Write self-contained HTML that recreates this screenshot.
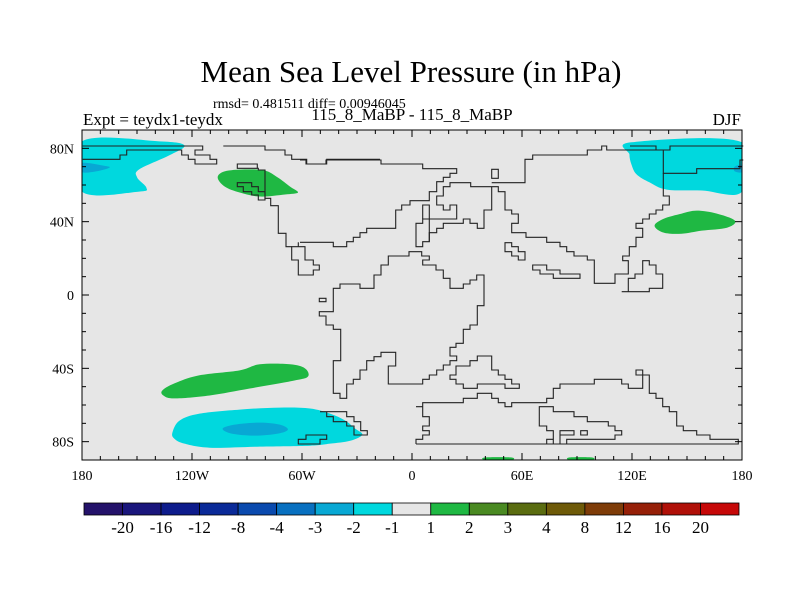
<!DOCTYPE html>
<html><head><meta charset="utf-8">
<style>
html,body{margin:0;padding:0;background:#fff;}
svg{display:block;font-family:"Liberation Serif",serif;}
</style></head>
<body>
<svg id="chart" width="800" height="600" viewBox="0 0 800 600" xmlns="http://www.w3.org/2000/svg">
<rect width="800" height="600" fill="#fff"/>
<text x="411" y="82" font-size="31" text-anchor="middle">Mean Sea Level Pressure (in hPa)</text>
<text x="213" y="108" font-size="14">rmsd= 0.481511 diff= 0.00946045</text>
<text x="83" y="125" font-size="17">Expt = teydx1-teydx</text>
<text x="412" y="120" font-size="17" text-anchor="middle">115_8_MaBP - 115_8_MaBP</text>
<text x="741" y="125" font-size="17" text-anchor="end">DJF</text>
<rect x="82" y="130" width="660" height="330" fill="#e6e6e6"/>
<g id="fields"></g>
<g id="coast" fill="none" stroke="#222" stroke-width="1.1"></g>
<g id="axes"></g>
<rect x="82" y="130" width="660" height="330" fill="none" stroke="#000" stroke-width="1"/>
<g id="cbar"></g>
</svg>
<script>
// ---- data ----
const lonTicks = [-180,-120,-60,0,60,120,180];
const lonLabels = ["180","120W","60W","0","60E","120E","180"];
const latTicks = [80,40,0,-40,-80];
const latLabels = ["80N","40N","0","40S","80S"];
const levels = ["-20","-16","-12","-8","-4","-3","-2","-1","1","2","3","4","8","12","16","20"];
const levelColors = ["#24126a","#1a167c","#0e1c8c","#0a2a98","#0a4aae","#0870c0","#08a8d4","#00d8de","#e6e6e6","#1fb843","#4a8a22","#5a6c10","#6e5a08","#7e3c08","#962008","#b01008","#c60808"];
// contour regions: [lon,lat] points, fill level colour
const blobTopLeftCyan = [[-180,83.8],[-137.8,83.8],[-124.1,81.6],[-132.3,76.2],[-148.8,68.5],[-149.9,64.1],[-144.9,58.6],[-148.8,56.4],[-180,56.4]];
const blobTopLeftBlue = [[-180,72],[-168,70.5],[-165,69.5],[-172,67.5],[-180,67]];
const blobNAGreen = [[-106,64.1],[-102.2,67.4],[-91.2,68.5],[-80.3,67.9],[-73.2,64.1],[-66.6,59.2],[-62.2,55.9],[-69.3,54.8],[-83,53.7],[-94,55.9],[-102.2,59.2]];
const blobTopRightCyan = [[119.7,83.3],[180,83.3],[180,56.4],[158.1,57],[138.9,57.5],[129.6,61.4],[122.5,65.8],[119.7,71.2],[118.6,76.7]];
const blobTopRightBlue = [[176,70],[180,71],[180,67],[176,67.5]];
const blobEastGreen = [[132.3,37.8],[137.3,41.6],[147.1,44.4],[155.3,46],[166.3,44.4],[176.2,40.5],[171.8,36.7],[158.1,35.1],[147.1,33.4],[137.3,34]];
const blobSouthGreen = [[-136.2,-52.1],[-129.6,-48.2],[-115.9,-43.8],[-94,-41.1],[-83,-37.8],[-66.6,-37.8],[-58.4,-40],[-56.7,-44.4],[-63.8,-46.6],[-88.5,-51],[-110.4,-54.8],[-129.6,-56.4],[-135.6,-54.8]];
const blobSouthCyan = [[-130.7,-75.1],[-126.8,-68.5],[-115.9,-64.7],[-94,-62.5],[-72.1,-61.4],[-55.6,-61.9],[-44.7,-64.7],[-36.4,-68.5],[-31,-72.9],[-27.1,-76.2],[-33.7,-79.5],[-44.7,-81.1],[-55.6,-82.2],[-83,-82.7],[-110.4,-83.3],[-124.1,-81.1],[-129.6,-78.4]];
const blobSouthBlue = [[-103.3,-72.9],[-96.7,-70.7],[-83,-69.6],[-72.1,-70.7],[-67.7,-73.4],[-73.2,-75.6],[-85.8,-76.7],[-98.4,-75.6]];
const blobPoleGreen1 = [[40,-88.6],[54,-88.6],[54,-90],[40,-90]];
const blobPoleGreen2 = [[86,-88.6],[98,-88.6],[98,-90],[86,-90]];
const fieldList = [[blobTopLeftCyan,"#00d8de"],[blobTopLeftBlue,"#08a8d4"],[blobNAGreen,"#1fb843"],[blobTopRightCyan,"#00d8de"],[blobTopRightBlue,"#08a8d4"],[blobEastGreen,"#1fb843"],[blobSouthGreen,"#1fb843"],[blobSouthCyan,"#00d8de"],[blobSouthBlue,"#08a8d4"],[blobPoleGreen1,"#1fb843"],[blobPoleGreen2,"#1fb843"]];

// ---- axis functions ----
const X = lon => 412 + lon*660/360;
const Y = lat => 295 - lat*330/180;
const NS = "http://www.w3.org/2000/svg";
function mk(tag, attrs, parent){const e=document.createElementNS(NS,tag);for(const k in attrs)e.setAttribute(k,attrs[k]);parent.appendChild(e);return e;}

// fields (smooth closed curves)
const fg=document.getElementById('fields');
function smooth(pts,closedStraight){
  const p=pts.map(q=>[X(q[0]),Y(q[1])]);const n=p.length;let d=`M${p[0][0]},${p[0][1]}`;
  for(let i=0;i<n;i++){const p0=p[(i-1+n)%n],p1=p[i],p2=p[(i+1)%n],p3=p[(i+2)%n];
    const c1=[p1[0]+(p2[0]-p0[0])/6,p1[1]+(p2[1]-p0[1])/6],c2=[p2[0]-(p3[0]-p1[0])/6,p2[1]-(p3[1]-p1[1])/6];
    d+=` C${c1[0]},${c1[1]} ${c2[0]},${c2[1]} ${p2[0]},${p2[1]}`;}
  return d+'Z';
}
fieldList.forEach((f,i)=>{
  const el=mk('path',{d:smooth(f[0]),fill:f[1]},fg);
  
  
});
const clip=mk('clipPath',{id:'pc'},document.getElementById('chart'));
mk('rect',{x:82,y:130,width:660,height:330},clip);
fg.setAttribute('clip-path','url(#pc)');

// coastlines (basemap geometry, given in zoom-crop pixel units: origin + /3)
const cg=document.getElementById('coast');
function coast(ox,oy,arr,closed){
  let pts=[];for(let i=0;i<arr.length;i+=2)pts.push((ox+arr[i]/3).toFixed(1)+','+(oy+arr[i+1]/3).toFixed(1));
  const el=mk(closed?'polygon':'polyline',{points:pts.join(' ')},cg);
  
  
}
coast(80,140,[8,18,368,18,368,30,345,30,345,45,390,45,390,58,410,58,410,72,345,72,345,58,325,58,325,45,305,45,305,30,140,30,140,45,120,45,120,58,8,58]);
coast(80,140,[430,18,555,18,555,30,615,30,615,45,635,45,635,58,680,58,680,72,740,72,740,58,900,58]);
coast(300,140,[0,60,18,60,18,72,78,72,78,60,243,60,243,72,368,72,368,86,470,86,470,100,450,100,450,112,430,112,430,125,410,125,410,155,388,155,388,182,330,182,330,195,305,195,305,210,287,210,287,265,200,265,200,278,180,278,180,292,160,292,160,305,140,305,140,320,100,320,100,307,0,307]);
coast(180,140,[355,307,355,320,335,320,335,360,355,360,355,405,400,405,400,390,418,390,418,375,400,375,400,360,375,360,375,320,355,320]);
coast(180,140,[335,320,318,320,318,280,295,280,295,197,272,197,272,175,255,175,255,90,235,90,235,85,172,85,172,72,232,72,232,85]);
coast(80,140,[472,128,515,128,515,140,535,140,535,155,555,155,555,180,535,180,535,165,515,165,515,155,490,155,490,140,472,140],true);
// Americas-like continent
coast(300,140,[58,475,78,475,78,485,58,485],true);
coast(300,140,[100,460,100,445,120,445,120,432,180,432,180,445,222,445,222,405,243,405,243,375,265,375,265,348,327,348,327,335,365,335,365,348,388,348,388,360,368,360,368,375,408,375,408,390,430,390,430,415,450,415,450,445,490,445,490,432,510,432,510,420,530,420,530,405,552,405,552,497,532,497,532,555,510,555,510,568,490,568,490,610,468,610,468,622,450,622,450,648,470,648,470,662,450,662,450,675,430,675,430,690,410,690,410,705,388,705,388,718,368,718,368,732,265,732,265,678,287,678,287,637,243,637,243,650,222,650,222,662,200,662,200,690,180,690,180,718,160,718,160,732,140,732,140,775,120,775,120,760,100,760,100,662,122,662,122,568,100,568,100,555,78,555,78,528,58,528,58,515,100,515],true);
// Asia-like
coast(300,140,[575,88,595,88,595,115,575,115],true);
coast(300,140,[575,128,675,128,675,58,698,58,698,45,862,45,862,30,905,30,905,18,920,18,920,30,1090,30,1090,100,1190,100,1190,86,1320,86,1320,60,1330,60]);
coast(300,140,[990,18,1068,18,1068,30,1110,30,1110,18,1330,18]);
coast(300,140,[1090,100,1090,168,1108,168,1108,195,1088,195,1088,210,1068,210,1068,222,1048,222,1048,237,1028,237,1028,250,1008,250,1008,265,1028,265,1028,292,1008,292,1008,320,988,320,988,348,968,348,968,362,985,362,985,402,945,402,945,430,883,430,883,360,862,360,862,348,822,348,822,335,800,335,800,320,780,320,780,307,740,307,740,292,678,292,678,278,635,278,635,250,655,250,655,222,635,222,635,210,615,210,615,155,595,155,595,140,575,140,575,210,552,210,552,265,532,265,532,250,510,250,510,237,490,237,490,250,430,250,430,265,410,265,410,278,388,278,388,305,368,305,368,320,348,320,348,250,368,250,368,237,470,237,470,195,450,195,450,210,430,210,430,195,410,195,410,168,430,168,430,140,450,140,450,128,512,128,512,140,575,140]);
coast(300,140,[368,237,368,195,388,195,388,305]);
coast(300,140,[615,308,635,308,635,320,655,320,655,335,675,335,675,360,655,360,655,348,635,348,635,335,615,335],true);
coast(300,140,[698,375,740,375,740,390,780,390,780,402,840,402,840,415,760,415,760,402,720,402,720,390,698,390],true);
coast(300,140,[965,455,985,455,985,415,1005,415,1005,402,1028,402,1028,362,1048,362,1048,375,1068,375,1068,402,1088,402,1088,445,1048,445,1048,455],true);
// southern continents
coast(300,140,[468,678,510,678,510,662,532,662,532,648,575,648,575,690,595,690,595,705,615,705,615,718,635,718,635,732,658,732,658,745,615,745,615,732,532,732,532,745,490,745,490,732,468,732,468,718,450,718,450,705,468,705],true);
coast(300,140,[348,912,348,898,368,898,368,885,388,885,388,872,368,872,368,858,388,858,388,830,368,830,368,800,348,800,348,800,368,800,368,788,490,788,490,775,532,775,532,760,575,760,575,775,595,775,595,788,615,788,615,800,635,800,635,788,740,788,740,775,760,775,760,745,780,745,780,732,883,732,883,718,965,718,965,732,985,732,985,745,1028,745,1028,705,1008,705,1008,690,1028,690,1028,705,1048,705,1048,760,1068,760,1068,775,1088,775,1088,800,1108,800,1108,815,1130,815,1130,858,1150,858,1150,872,1190,872,1190,885,1230,885,1230,898,1315,898,1315,912,348,912]);
coast(300,140,[740,912,740,898,760,898,760,912,780,912,780,872,822,872,822,885,780,885]);
coast(300,140,[800,912,800,898,945,898,945,885,965,885,965,872,945,872,945,858,925,858,925,845,862,845,862,830,822,830,822,815,760,815,760,800,718,800,718,858,740,858,740,872,760,872,760,898]);
coast(300,140,[842,872,862,872,862,885,842,885],true);
coast(80,140,[720,815,740,815,740,830,760,830,760,845,800,845,800,858,822,858,822,885,862,885,862,872,842,872,842,845,822,845,822,830,800,830,800,815,740,815]);
coast(80,140,[655,898,678,898,678,885,740,885,740,898,720,898,720,912,655,912],true);

// axes
const ag=document.getElementById('axes');
for(let lon=-180;lon<=180;lon+=10){
  const major=lonTicks.includes(lon), len=major?7:4;
  let t=mk('line',{x1:X(lon),x2:X(lon),y1:460,y2:460-len,stroke:'#000','stroke-width':1},ag);
   
  t=mk('line',{x1:X(lon),x2:X(lon),y1:130,y2:130+len,stroke:'#000','stroke-width':1},ag);
   
}
for(let lat=-90;lat<=90;lat+=10){
  const major=latTicks.includes(lat), len=major?7:4;
  let t=mk('line',{x1:82,x2:82+len,y1:Y(lat),y2:Y(lat),stroke:'#000','stroke-width':1},ag);
   
  t=mk('line',{x1:742,x2:742-len,y1:Y(lat),y2:Y(lat),stroke:'#000','stroke-width':1},ag);
   
}
lonTicks.forEach((lon,i)=>{
  const t=mk('text',{x:X(lon),y:480,'font-size':14,'text-anchor':'middle'},ag);t.textContent=lonLabels[i];
   
});
latTicks.forEach((lat,i)=>{
  const t=mk('text',{x:74,y:Y(lat)+5,'font-size':14,'text-anchor':'end'},ag);t.textContent=latLabels[i];
   
});

// colorbar
const cb=document.getElementById('cbar');
const cx0=84, cx1=739, bw=(cx1-cx0)/levelColors.length;
levelColors.forEach((c,i)=>{
  const r=mk('rect',{x:cx0+i*bw,y:503,width:bw,height:12,fill:c,stroke:'#000','stroke-width':0.8},cb);
   
});
levels.forEach((l,i)=>{
  const t=mk('text',{x:cx0+(i+1)*bw,y:533,'font-size':17,'text-anchor':'middle'},cb);t.textContent=l;
   
});
</script>
</body></html>
